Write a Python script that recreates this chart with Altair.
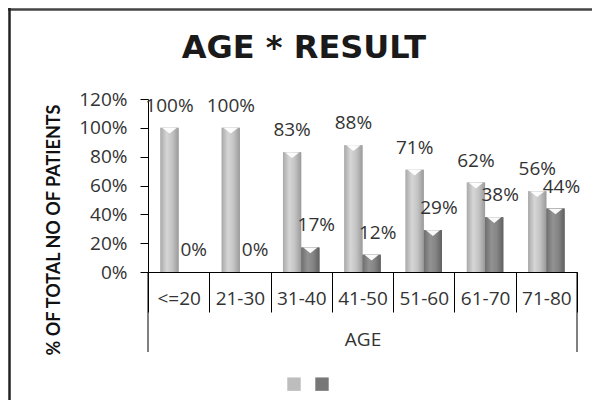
import altair as alt
import pandas as pd

ages = ["<=20", "21-30", "31-40", "41-50", "51-60", "61-70", "71-80"]
series = ["Series1", "Series2"]
s1 = [1.00, 1.00, 0.83, 0.88, 0.71, 0.62, 0.56]
s2 = [0.00, 0.00, 0.17, 0.12, 0.29, 0.38, 0.44]
y_ticks = [0, 0.2, 0.4, 0.6, 0.8, 1.0, 1.2]

rows = []
for i, a in enumerate(ages):
    rows.append({"age": a, "series": series[0], "value": s1[i]})
    rows.append({"age": a, "series": series[1], "value": s2[i]})
df = pd.DataFrame(rows)

FONT = "Open Sans"
TXT = "#333333"
W, H = 429, 173

x = alt.X(
    "age:N", sort=ages,
    scale=alt.Scale(paddingInner=0, paddingOuter=0),
    axis=alt.Axis(
        title="AGE", tickBand="extent", tickSize=40, tickColor="#000", tickWidth=1,
        domainColor="#000", domainWidth=1, labelPadding=-23, labelFont=FONT,
        labelFontSize=19, labelColor=TXT, labelAngle=0, labelBaseline="top",
        titleFont=FONT, titleFontSize=19, titleFontWeight="normal", titleColor=TXT,
        titleY=73, titleBaseline="alphabetic",
    ),
)
xo = alt.XOffset("series:N", sort=series,
                 scale=alt.Scale(domain=series, paddingInner=0, paddingOuter=0.68))
y = alt.Y(
    "value:Q",
    scale=alt.Scale(domain=[0, 1.2], nice=False, zero=True),
    axis=alt.Axis(
        title=None, format=".0%", values=y_ticks, tickSize=8, tickColor="#000",
        domainColor="#000", labelPadding=13, grid=False, labelFont=FONT,
        labelFontSize=19, labelColor=TXT,
    ),
)

base = alt.Chart(df)

legend_bars = base.mark_bar().encode(
    x=x, xOffset=xo, y=y,
    color=alt.Color(
        "series:N", sort=series,
        scale=alt.Scale(domain=series, range=["#bdbdbd", "#777777"]),
        legend=alt.Legend(
            title=None, orient="none", legendX=139, legendY=278, direction="horizontal",
            symbolType="square", symbolSize=180, symbolStrokeWidth=0, labelExpr="''",
            labelOffset=0, columnPadding=14, padding=0,
        ),
    ),
)

grad1 = alt.LinearGradient(
    gradient="linear", x1=0, x2=1, y1=0, y2=0,
    stops=[
        alt.GradientStop(color="#a9a9a9", offset=0),
        alt.GradientStop(color="#d6d6d6", offset=0.35),
        alt.GradientStop(color="#c4c4c4", offset=0.65),
        alt.GradientStop(color="#9a9a9a", offset=1),
    ],
)
grad2 = alt.LinearGradient(
    gradient="linear", x1=0, x2=1, y1=0, y2=0,
    stops=[
        alt.GradientStop(color="#6e6e6e", offset=0),
        alt.GradientStop(color="#929292", offset=0.35),
        alt.GradientStop(color="#858585", offset=0.65),
        alt.GradientStop(color="#606060", offset=1),
    ],
)

bars1 = base.transform_filter(alt.datum.series == series[0]).mark_bar(color=grad1).encode(
    x=x, xOffset=xo, y=y)
bars2 = base.transform_filter(alt.datum.series == series[1]).mark_bar(color=grad2).encode(
    x=x, xOffset=xo, y=y)

notch = base.transform_filter(alt.datum.value > 0).mark_point(
    shape="M -1 -0.55 L 1 -0.55 L 0 0.25 Z", filled=True, color="white",
    size=200, opacity=0.95, strokeWidth=0, yOffset=4,
).encode(x=x, xOffset=xo, y=y)

labels1 = base.transform_filter(alt.datum.series == series[0]).mark_text(
    baseline="alphabetic", dy=-16, fontSize=19, font=FONT, color=TXT,
).encode(x=x, xOffset=xo, y=y, text=alt.Text("value:Q", format=".0%"))
labels2 = base.transform_filter(alt.datum.series == series[1]).mark_text(
    baseline="alphabetic", dy=-16, dx=6, fontSize=19, font=FONT, color=TXT,
).encode(x=x, xOffset=xo, y=y, text=alt.Text("value:Q", format=".0%"))

deco = alt.Chart(pd.DataFrame({"d": [0]}))
outer_l = deco.mark_rule(color="#000", strokeWidth=1).encode(
    x=alt.value(0), y=alt.value(H), y2=alt.value(253))
outer_r = deco.mark_rule(color="#000", strokeWidth=1).encode(
    x=alt.value(W), y=alt.value(H), y2=alt.value(253))
frame_top = deco.mark_rule(color="#444", strokeWidth=2.5).encode(
    x=alt.value(-140), x2=alt.value(W + 15), y=alt.value(-89.5))
frame_left = deco.mark_rule(color="#222", strokeWidth=2.5).encode(
    x=alt.value(-138.5), y=alt.value(-91), y2=alt.value(310))

title_txt = deco.mark_text(
    text="AGE * RESULT", font="DejaVu Sans", fontWeight="bold", fontSize=32,
    color="#1a1a1a", baseline="alphabetic", align="center",
).encode(x=alt.value(156), y=alt.value(-41))

ytitle = deco.mark_text(
    text="% OF TOTAL NO OF PATIENTS", font="Lato", fontWeight="bold", fontSize=18,
    color="#111", angle=270, align="center", baseline="middle",
).encode(x=alt.value(-93), y=alt.value(131))

chart = alt.layer(
    legend_bars, bars1, bars2, notch, labels1, labels2,
    outer_l, outer_r, frame_top, frame_left, title_txt, ytitle,
).properties(
    width=W, height=H,
    autosize=alt.AutoSizeParams(type="none"),
    padding={"left": 140, "top": 91, "right": 15, "bottom": 128},
    background="white",
).configure_view(stroke=None)

chart.save("out.html", embed_options={"renderer": "svg", "actions": False})
